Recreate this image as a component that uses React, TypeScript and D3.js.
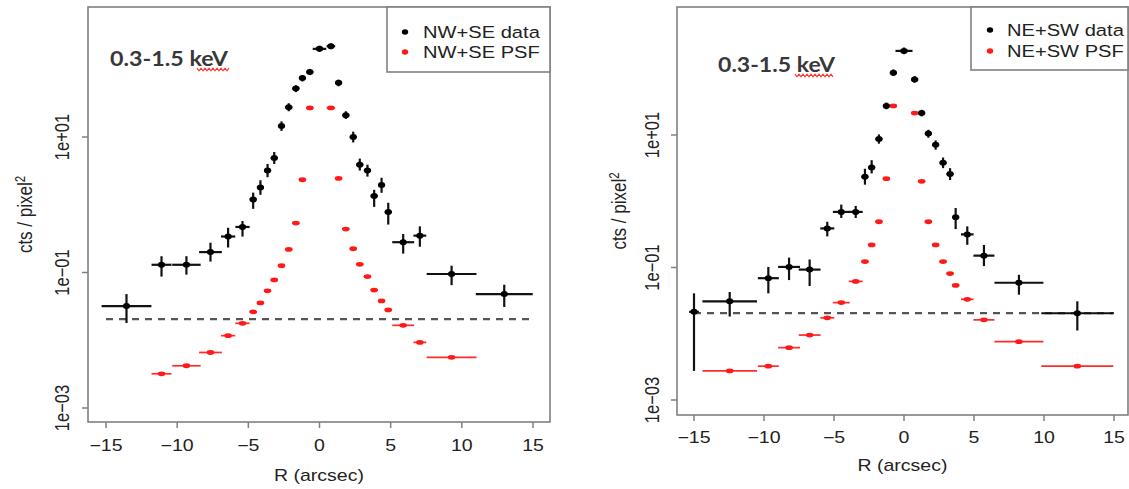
import React from 'react';
import * as d3 from 'd3';

// ---------- shared axis settings ----------
const xTicks = [-15, -10, -5, 0, 5, 10, 15];
const yTicks = [1e-3, 1e-1, 1e1];
const yTickLabels = ['1e\u221203', '1e\u221201', '1e+01'];
const xTitle = 'R (arcsec)';
const bandLabel = '0.3-1.5 keV';

// ---------- NW+SE panel ----------
const nwR = [-13.56, -11.1, -9.35, -7.66, -6.42, -5.41, -4.66, -4.15, -3.65, -3.18, -2.67, -2.16, -1.66, -1.2, -0.68, 0, 0.8, 1.34, 1.85, 2.37, 2.83, 3.37, 3.84, 4.36, 4.83, 5.88, 7.05, 9.28, 12.98];
const nwXerr = [1.75, 0.7, 1.0, 0.8, 0.5, 0.5, 0.25, 0.25, 0.25, 0.25, 0.25, 0.25, 0.25, 0.25, 0.25, 0.47, 0.3, 0.25, 0.25, 0.25, 0.25, 0.25, 0.25, 0.25, 0.25, 0.77, 0.45, 1.75, 2.0];
const nwData = [0.032, 0.13, 0.13, 0.2, 0.34, 0.47, 1.2, 1.8, 3.2, 4.9, 14.5, 27.5, 52, 74, 91, 200, 219, 63, 21, 10, 3.9, 3.2, 1.35, 1.95, 0.78, 0.28, 0.35, 0.095, 0.048];
const nwLo = [0.018, 0.087, 0.093, 0.145, 0.234, 0.339, 0.87, 1.4, 2.55, 4.0, 12.3, 24, 46, 66, 82, 180, 198, 56, 18.5, 8.3, 3.2, 2.6, 0.93, 1.5, 0.51, 0.19, 0.24, 0.065, 0.031];
const nwHi = [0.048, 0.174, 0.174, 0.275, 0.457, 0.575, 1.51, 2.3, 4.0, 6.0, 17, 31.5, 58, 82, 101, 222, 240, 70, 24, 12, 4.8, 3.9, 1.66, 2.5, 1.07, 0.37, 0.48, 0.126, 0.066];
const nwPsf = [null, 0.0032, 0.0042, 0.0066, 0.0117, 0.0178, 0.0263, 0.0355, 0.0537, 0.0776, 0.126, 0.219, 0.537, 2.34, 26.9, 200, 26.9, 2.45, 0.437, 0.224, 0.132, 0.087, 0.055, 0.038, 0.028, 0.0166, 0.0093, 0.0056, null];
const nwBackground = 0.0205;
const nwLegend = ['NW+SE data', 'NW+SE PSF'];

// ---------- NE+SW panel ----------
const neR = [-15, -12.45, -9.69, -8.21, -6.74, -5.48, -4.48, -3.45, -2.79, -2.31, -1.79, -1.26, -0.76, 0, 0.76, 1.26, 1.74, 2.26, 2.79, 3.29, 3.69, 4.52, 5.71, 8.21, 12.38];
const neXerr = [0.35, 1.95, 0.75, 0.78, 0.78, 0.5, 0.6, 0.5, 0.25, 0.25, 0.25, 0.25, 0.25, 0.6, 0.25, 0.25, 0.25, 0.25, 0.25, 0.25, 0.25, 0.45, 0.75, 1.75, 2.57];
const neData = [0.0214, 0.0309, 0.069, 0.102, 0.093, 0.389, 0.69, 0.69, 2.34, 3.24, 8.7, 27.5, 87, 186, 69, 21.4, 10.5, 7.1, 3.8, 2.57, 0.575, 0.316, 0.151, 0.0589, 0.0204];
const neLo = [0.00275, 0.0182, 0.0407, 0.0646, 0.0525, 0.295, 0.56, 0.56, 1.78, 2.63, 7.4, 24.5, 77.6, 166, 61.7, 19.1, 9.1, 6.0, 3.16, 2.09, 0.38, 0.22, 0.105, 0.0389, 0.0112];
const neHi = [0.0407, 0.0427, 0.102, 0.141, 0.132, 0.49, 0.89, 0.85, 3.09, 4.17, 10.2, 30.9, 97.7, 209, 77.6, 24, 12, 8.3, 4.57, 3.16, 0.79, 0.417, 0.219, 0.0776, 0.0309];
const nePsf = [null, 0.00275, 0.00324, 0.00617, 0.00955, 0.0174, 0.0295, 0.0617, 0.123, 0.219, 0.49, 2.19, 27.5, 186, 21.4, 2.0, 0.49, 0.219, 0.123, 0.081, 0.0537, 0.0331, 0.0162, 0.0076, 0.00324];
const neBackground = 0.0205;
const neLegend = ['NE+SW data', 'NE+SW PSF'];

const SX = 1.22; // horizontal stretch of the original picture
const FONT = "'Liberation Sans', Arial, Helvetica, sans-serif";
const AXIS_GRAY = '#808080';

type Geo = {
  box: { x0: number; x1: number; y0: number; y1: number };
  xRange: [number, number];
  yRange: [number, number];
  legend: { x0: number; y1: number; dotX: number; textX: number; rows: [number, number] };
  band: { x: number; y: number; w: number; sq0: number; sq1: number; sqY: number };
  tickLabelY: number;
  titleY: number;
  yTickX: number;
  yTitleX: number;
};

function SText(props: { x: number; y: number; anchor?: string; size: number; children: any; fill?: string }) {
  const { x, y, anchor = 'start', size, children, fill = '#222' } = props;
  return (
    <g transform={`translate(${x},${y}) scale(${SX},1)`}>
      <text textAnchor={anchor} fontFamily={FONT} fontSize={size} fill={fill}>
        {children}
      </text>
    </g>
  );
}

function Panel(props: {
  geo: Geo;
  R: number[];
  xerr: number[];
  data: number[];
  lo: number[];
  hi: number[];
  psf: (number | null)[];
  bg: number;
  legend: string[];
}) {
  const { geo, R, xerr, data, lo, hi, psf, bg, legend } = props;
  const x = d3.scaleLinear().domain([-15, 15]).range(geo.xRange);
  const y = d3.scaleLog().domain([1e-3, 10]).range(geo.yRange);
  const { box } = geo;

  // spell-check squiggle under "keV"
  const sq: [number, number][] = [];
  for (let px = geo.band.sq0, i = 0; px <= geo.band.sq1; px += 2, i++) {
    sq.push([px, geo.band.sqY + (i % 2 === 0 ? -1.3 : 1.3)]);
  }
  const sqPath = d3.line()(sq) || '';

  return (
    <g>
      {/* plot box */}
      <rect x={box.x0} y={box.y0} width={box.x1 - box.x0} height={box.y1 - box.y0} fill="none" stroke={AXIS_GRAY} strokeWidth={1.6} />
      {/* x axis */}
      {xTicks.map((t) => (
        <g key={'xt' + t}>
          <line x1={x(t)} x2={x(t)} y1={box.y1} y2={box.y1 + 6} stroke={AXIS_GRAY} strokeWidth={1.5} />
          <SText x={x(t)} y={geo.tickLabelY} anchor="middle" size={16}>
            {String(t).replace('-', '\u2212')}
          </SText>
        </g>
      ))}
      <SText x={(box.x0 + box.x1) / 2} y={geo.titleY} anchor="middle" size={16}>
        {xTitle}
      </SText>
      {/* y axis */}
      {yTicks.map((t, i) => (
        <g key={'yt' + i}>
          <line x1={box.x0 - 6} x2={box.x0} y1={y(t)} y2={y(t)} stroke={AXIS_GRAY} strokeWidth={1.5} />
          <g transform={`translate(${geo.yTickX},${y(t)}) scale(${SX},1) rotate(-90)`}>
            <text textAnchor="middle" dy="0.36em" fontFamily={FONT} fontSize={16.5} fill="#222">
              {yTickLabels[i]}
            </text>
          </g>
        </g>
      ))}
      <g transform={`translate(${geo.yTitleX},${(box.y0 + box.y1) / 2}) scale(${SX},1) rotate(-90)`}>
        <text textAnchor="middle" dy="0.36em" fontFamily={FONT} fontSize={17} fill="#222">
          <tspan>cts / pixel</tspan>
          <tspan dy="-6" fontSize={11.5}>2</tspan>
        </text>
      </g>

      {/* background level */}
      <line x1={x(-15)} x2={x(15)} y1={y(bg)} y2={y(bg)} stroke="#555" strokeWidth={2.4} strokeDasharray="7 6" />

      {/* PSF */}
      {R.map((r, i) =>
        psf[i] == null ? null : (
          <g key={'p' + i}>
            <line x1={x(r - xerr[i])} x2={x(r + xerr[i])} y1={y(psf[i] as number)} y2={y(psf[i] as number)} stroke="#ff2a2a" strokeWidth={1.7} />
            <ellipse cx={x(r)} cy={y(psf[i] as number)} rx={3.8} ry={2.4} fill="#ff1a1a" />
          </g>
        )
      )}
      {/* data */}
      {R.map((r, i) => (
        <g key={'d' + i}>
          <line x1={x(r - xerr[i])} x2={x(r + xerr[i])} y1={y(data[i])} y2={y(data[i])} stroke="#111" strokeWidth={2.2} />
          <line x1={x(r)} x2={x(r)} y1={y(lo[i])} y2={y(hi[i])} stroke="#111" strokeWidth={2.2} />
          <ellipse cx={x(r)} cy={y(data[i])} rx={3.6} ry={3} fill="#000" />
        </g>
      ))}

      {/* legend */}
      <rect x={geo.legend.x0} y={box.y0} width={box.x1 - geo.legend.x0} height={geo.legend.y1 - box.y0} fill="#fff" stroke={AXIS_GRAY} strokeWidth={1.6} />
      <ellipse cx={geo.legend.dotX} cy={geo.legend.rows[0]} rx={3.2} ry={2.7} fill="#000" />
      <ellipse cx={geo.legend.dotX} cy={geo.legend.rows[1]} rx={3.2} ry={2.7} fill="#ff1a1a" />
      <SText x={geo.legend.textX} y={geo.legend.rows[0] + 6} size={16.5}>
        {legend[0]}
      </SText>
      <SText x={geo.legend.textX} y={geo.legend.rows[1] + 6} size={16.5}>
        {legend[1]}
      </SText>

      {/* energy band annotation */}
      <text x={geo.band.x} y={geo.band.y} fontFamily="Lato, 'Open Sans', sans-serif" fontWeight={700} fontSize={21} fill="#383838" textLength={geo.band.w} lengthAdjust="spacingAndGlyphs">
        {bandLabel}
      </text>
      <path d={sqPath} fill="none" stroke="#ff3030" strokeWidth={1.1} />
    </g>
  );
}

const leftGeo: Geo = {
  box: { x0: 88, x1: 550, y0: 7, y1: 422 },
  xRange: [106, 533],
  yRange: [408, 137],
  legend: { x0: 387, y1: 72, dotX: 405, textX: 423, rows: [32, 52] },
  band: { x: 110, y: 66, w: 118, sq0: 197, sq1: 230, sqY: 69.5 },
  tickLabelY: 451,
  titleY: 481,
  yTickX: 62,
  yTitleX: 25,
};

const rightGeo: Geo = {
  box: { x0: 677, x1: 1128, y0: 7, y1: 415 },
  xRange: [694, 1114],
  yRange: [400, 135],
  legend: { x0: 971, y1: 70, dotX: 990, textX: 1007, rows: [30, 51] },
  band: { x: 718, y: 72, w: 117, sq0: 795, sq1: 833, sqY: 75.5 },
  tickLabelY: 443,
  titleY: 471,
  yTickX: 652,
  yTitleX: 619,
};

export default function App() {
  return (
    <svg width={1129} height={489} style={{ position: 'absolute', left: 0, top: 0, background: '#fff' }}>
      <rect x={0} y={0} width={1129} height={489} fill="#fff" />
      <Panel geo={leftGeo} R={nwR} xerr={nwXerr} data={nwData} lo={nwLo} hi={nwHi} psf={nwPsf} bg={nwBackground} legend={nwLegend} />
      <Panel geo={rightGeo} R={neR} xerr={neXerr} data={neData} lo={neLo} hi={neHi} psf={nePsf} bg={neBackground} legend={neLegend} />
    </svg>
  );
}
